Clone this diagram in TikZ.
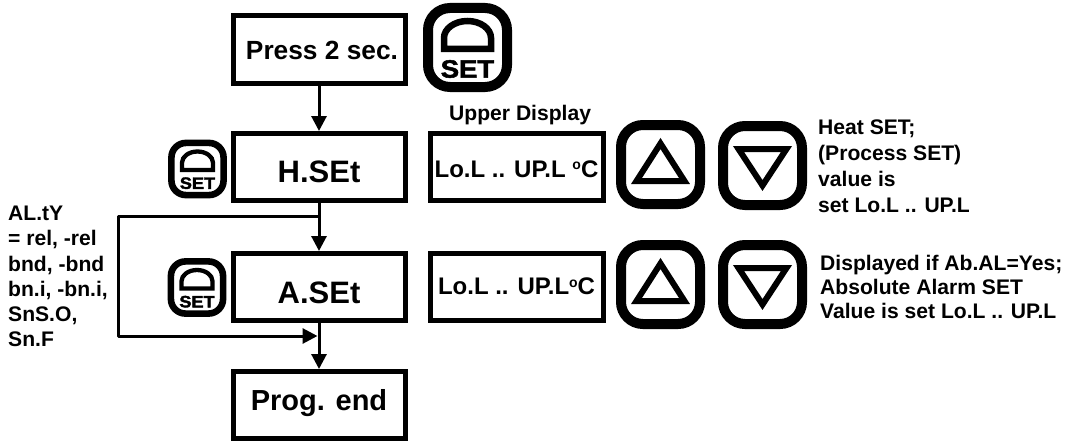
\documentclass[tikz,border=0pt]{standalone}
\usepackage{fontspec}
\setmainfont{Liberation Sans}
\newfontfamily\keyfont[FakeBold=2]{Liberation Sans Bold}
\newcommand{\smallo}{\raisebox{.32em}{\fontsize{14}{14}\selectfont o}}
\usetikzlibrary{arrows.meta,positioning}

\begin{document}
\begin{tikzpicture}[x=1pt,y=-1pt,>={Triangle[length=15pt,width=15pt]},
    flow/.style={->,line width=3pt,line join=round},
    stepbox/.style={draw,line width=5pt,minimum width=172pt,minimum height=67pt,inner sep=0pt,font=\fontsize{30}{30}\bfseries},
    showbox/.style={draw,line width=5pt,minimum width=173pt,minimum height=67pt,inner sep=0pt,font=\fontsize{24}{24}\bfseries},
    note/.style={anchor=north west,inner sep=0pt,align=left,font=\fontsize{21.1}{#1}\bfseries},
    keybox/.style={draw,line width=#1*10pt,minimum size=#1*79pt,rounded corners=#1*22pt,inner sep=0pt},
    setkey/.pic={
        \node[keybox=#1] (box) {};
        \draw[line width=#1*6.5pt] (-#1*23.5,#1*1.5) -- (-#1*23.5,-#1*9.5)
            arc[start angle=180,end angle=0,x radius=#1*23.5pt,y radius=#1*17pt]
            -- (#1*23.5,#1*1.5) -- cycle;
        \node[inner sep=0pt,xscale=#1*1.1,yscale=#1] (word) at (0,#1*21.5)
            {\fontsize{25}{25}\keyfont SET};
    },
    upkey/.pic={
        \node[keybox=1] (box) {};
        \draw[line width=6pt] (0,-21) -- (24,16.5) -- (-24,16.5) -- cycle;
    },
    downkey/.pic={
        \node[keybox=1] (box) {};
        \draw[line width=6pt] (0,20) -- (24,-16.5) -- (-24,-16.5) -- cycle;
    }]
    \useasboundingbox (0,0) rectangle (1068,444);

    % main column
    \node[stepbox,font=\fontsize{26.3}{26.3}\bfseries,text height=20pt] (press) at (319,49.5) {\kern6pt Press 2 sec.};
    \node[stepbox,text height=32pt,font=\fontsize{31}{31}\bfseries] (hset) [below=45.5pt of press] {H.SEt};
    \node[stepbox,text height=33pt,font=\fontsize{31}{31}\bfseries] (aset) [below=48pt of hset] {A.SEt};
    \node[stepbox,text height=18pt,font=\fontsize{29}{29}\bfseries] (pend) [below=46pt of aset] {Prog. end};

    \coordinate (split) at (319,216.5);
    \coordinate (turnA) at (118,216.5);
    \coordinate (turnB) at (118,336);
    \coordinate (merge) at (319,336);

    \draw[flow] (press) -- (hset);
    \draw[flow] (hset) -- (aset);
    \draw[flow] (aset) -- (pend);
    \draw[flow,shorten >=1.5pt] (split) -- (turnA) -- (turnB) -- (merge);

    % displays
    \node[showbox,text height=21pt] (showH) [right=20pt of hset] {Lo.L .. UP.L \smallo C};
    \node[showbox,text height=16pt] (showA) [right=20pt of aset] {Lo.L .. UP.L\smallo C};
    \node[note=21] (upper) at (449,105) {Upper Display};

    % keys
    \pic (keyPress) at (467.5,47.5) {setkey=1};
    \pic (keyH) at (197.5,169) {setkey=0.66};
    \pic (keyA) at (197,287.5) {setkey=0.66};
    \pic (upH) at (660.5,164.5) {upkey};
    \pic (downH) at (762.5,165.5) {downkey};
    \pic (upA) at (660.5,284.5) {upkey};
    \pic (downA) at (762.5,284.5) {downkey};

    % notes
    \node[note=26] (noteH) at (818,120) {Heat SET;\\(Process SET)\\value is\\set Lo.L .. UP.L};
    \node[note=24] (noteA) at (820,255) {Displayed if Ab.AL=Yes;\\Absolute Alarm SET\\Value is set Lo.L .. UP.L};
    \node[note=25.2] (noteT) at (8,206) {AL.tY\\= rel, -rel\\bnd, -bnd\\bn.i, -bn.i,\\SnS.O,\\Sn.F};
\end{tikzpicture}
\end{document}
